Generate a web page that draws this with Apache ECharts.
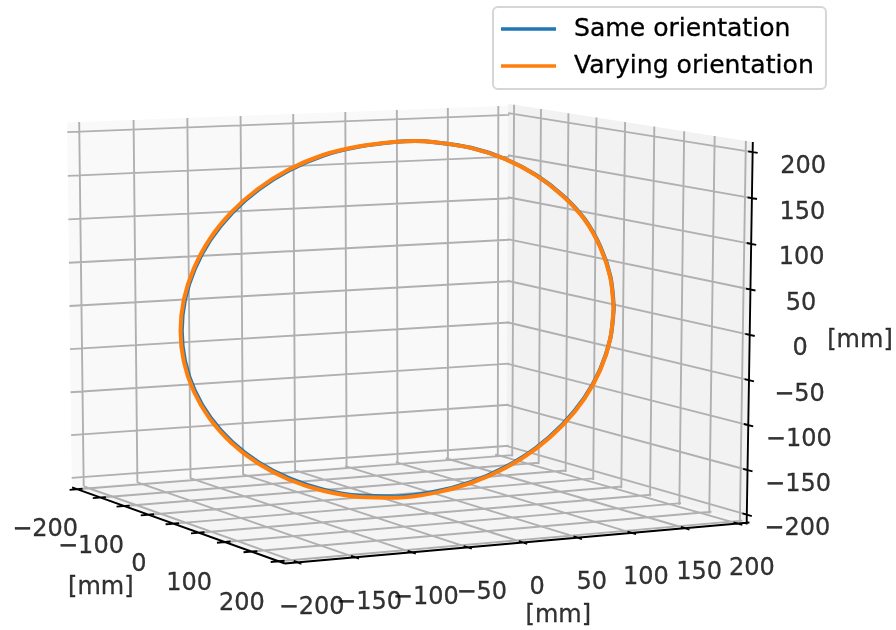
<!DOCTYPE html>
<html>
<head>
<meta charset="utf-8">
<style>html,body{margin:0;padding:0;background:#fff}#c{width:896px;height:630px}</style>
<script src="https://cdn.jsdelivr.net/npm/echarts@6/dist/echarts.min.js"></script>
</head>
<body>
<div id="c"></div>
<script>
// ---- values ----
const depthTicks = [-200,-150,-100,-50,0,50,100,150,200];
const widthTicks = [-200,-150,-100,-50,0,50,100,150,200];
const heightTicks = [-200,-150,-100,-50,0,50,100,150,200];
const depthLabels = [-200,-100,0,100,200];
const widthLabels = [-200,-150,-100,-50,0,50,100,150,200];
const heightLabels = [-200,-150,-100,-50,0,50,100,150,200];
const axisLimit = 211;
const seriesNames = ['Same orientation','Varying orientation'];
// trajectory as seen in the view plane, units measured from the centre of the view
const sameOrientation = [[216.8,10],[213.5,41],[203.7,70.6],[187.8,98.7],[166.1,122.3],[139.4,142.8],[108.4,159],[74.1,170.2],[37.6,175.8],[18,177],[0,176.2],[-37.4,171.4],[-73.5,162.5],[-107.7,147.7],[-138.5,128.3],[-165,105],[-186.6,78.2],[-202.3,48.9],[-212,18.4],[-215.2,-12.7],[-211.9,-43.3],[-202.2,-72.5],[-186.4,-99.7],[-164.8,-124],[-138.3,-144.4],[-107.5,-160.4],[-73.4,-171.6],[-37.2,-177.6],[0,-178.4],[37.3,-173.8],[73.6,-164.1],[107.8,-149.2],[138.7,-130],[165.3,-106.6],[187.1,-80.1],[203.2,-51.2],[213.2,-21],[216.8,10]];
const varyingOrientation = [[216.5,10],[213.2,40.9],[203.4,70.4],[187.5,98.5],[165.8,122],[139.2,142.6],[108.3,158.8],[74,170.1],[37.6,175.8],[18,177],[0,176.2],[-37.6,171.7],[-74,163],[-108.3,148.4],[-139.2,129],[-165.8,105.6],[-187.5,78.7],[-203.4,48.9],[-213.2,18.4],[-216.5,-12.7],[-213.2,-43.6],[-203.4,-73],[-187.5,-100.4],[-165.8,-124.7],[-139.2,-145.3],[-108.3,-161.5],[-74,-172.8],[-37.6,-178.9],[0,-179.7],[37.6,-174.9],[74,-165],[108.3,-150],[139.2,-130.6],[165.8,-107.2],[187.5,-80.6],[203.4,-51.6],[213.2,-21],[216.5,10]];

// ---- view geometry (where the ±200 grid corners of each wall appear) ----
const viewLeft = 397, viewTop = 318;
function homography(c00,c10,c11,c01){
  const [x0,y0]=c00,[x1,y1]=c10,[x2,y2]=c11,[x3,y3]=c01;
  const dx1=x1-x2,dx2=x3-x2,sx=x0-x1+x2-x3,dy1=y1-y2,dy2=y3-y2,sy=y0-y1+y2-y3;
  const den=dx1*dy2-dy1*dx2;
  const g=(sx*dy2-dx2*sy)/den,h=(dx1*sy-sx*dy1)/den;
  const a=x1-x0+g*x1,b=x3-x0+h*x3,d=y1-y0+g*y1,e=y3-y0+h*y3;
  return function(u,v){
    const s=(u+200)/400,t=(v+200)/400,w=g*s+h*t+1;
    return [(a*s+b*t+x0)/w-viewLeft, viewTop-(d*s+e*t+y0)/w];
  };
}
// (width, height) on the left wall
const leftWall = homography([83.6,477],[497.8,446.5],[498.3,115.3],[79.3,131.7]);
// (depth, height) on the right wall
const rightWall = homography([512.3,447.5],[740,512.7],[745.7,151],[514,114]);
// (depth, width) on the floor
const floor = homography([89,488.3],[291.5,560.2],[731,521.6],[501,456]);

const L = axisLimit;
const gap = ['-','-'];
function segs(list){ const out=[]; list.forEach(s=>{out.push(s[0],s[1],gap);}); return out; }

const panes = [
  {c:'#f9f9f9',p:[leftWall(-L,-L),leftWall(L,-L),leftWall(L,L),leftWall(-L,L)]},
  {c:'#f2f2f2',p:[rightWall(-L,-L),rightWall(L,-L),rightWall(L,L),rightWall(-L,L)]},
  {c:'#f5f5f5',p:[floor(-L,-L),floor(L,-L),floor(L,L),floor(-L,L)]}
];

const gridSegs = [];
widthTicks.forEach(w=>{ gridSegs.push([leftWall(w,-L),leftWall(w,L)]); gridSegs.push([floor(-L,w),floor(L,w)]); });
depthTicks.forEach(a=>{ gridSegs.push([rightWall(a,-L),rightWall(a,L)]); gridSegs.push([floor(a,-L),floor(a,L)]); });
heightTicks.forEach(z=>{ gridSegs.push([leftWall(-L,z),leftWall(L,z)]); gridSegs.push([rightWall(-L,z),rightWall(L,z)]); });

const axisSegs = [
  [floor(-L,-L),floor(L,-L)],
  [floor(L,-L),floor(L,L)],
  [rightWall(L,-L),rightWall(L,L)]
];
depthTicks.forEach(a=>axisSegs.push([floor(a,-L-7),floor(a,-L+5)]));
widthTicks.forEach(w=>axisSegs.push([floor(L-7,w),floor(L+7,w)]));
heightTicks.forEach(z=>axisSegs.push([rightWall(L-7,z),rightWall(L+8,z)]));

const fmt = v => (v<0?'\u2212'+(-v):''+v);
const shift = (p,dx,dy)=>[p[0]+dx,p[1]-dy];
const tickText = [];
depthLabels.forEach(a=>tickText.push({name:fmt(a),value:shift(floor(a,-L),-34.5-a/80,41.5+a/200)}));
widthLabels.forEach(w=>tickText.push({name:fmt(w),value:shift(floor(L,w),14,45)}));
heightLabels.forEach(z=>tickText.push({name:fmt(z),value:shift(rightWall(L,z),50.5,14.3)}));
tickText.push({name:'[mm]',value:[100.8-viewLeft,viewTop-588]});
tickText.push({name:'[mm]',value:[558.3-viewLeft,viewTop-616]});
tickText.push({name:'[mm]',value:[860-viewLeft,viewTop-341]});

const FONT = '"DejaVu Sans"';
const chart = echarts.init(document.getElementById('c'),null,{renderer:'canvas',width:896,height:630});
chart.setOption({
  animation:false,
  backgroundColor:'#fff',
  grid:{left:0,right:0,top:0,bottom:0},
  xAxis:{type:'value',min:-viewLeft,max:896-viewLeft,show:false},
  yAxis:{type:'value',min:viewTop-630,max:viewTop,show:false},
  legend:{
    data:seriesNames,left:493,top:7,orient:'vertical',align:'left',icon:'rect',
    padding:[8,12,9,8],itemWidth:55,itemHeight:3.6,itemGap:9,
    backgroundColor:'#fff',borderColor:'#d6d6d6',borderWidth:2,borderRadius:5,
    selectedMode:false,
    textStyle:{fontFamily:FONT,fontSize:25.1,color:'#000',lineHeight:28,padding:[0,0,0,13],textBorderColor:'#000',textBorderWidth:0.3}
  },
  series:[
    {type:'custom',name:'panes',silent:true,z:1,data:panes.map((_,i)=>[i]),encode:{x:0,y:0},clip:false,
      renderItem:(params,api)=>({type:'polygon',shape:{points:panes[params.dataIndex].p.map(q=>api.coord(q))},style:{fill:panes[params.dataIndex].c}})},
    {type:'line',name:'grid',silent:true,z:2,symbol:'none',clip:false,data:segs(gridSegs),lineStyle:{color:'#b0b0b0',width:1.9}},
    {type:'line',name:'axes',silent:true,z:3,symbol:'none',clip:false,data:segs(axisSegs),lineStyle:{color:'#000',width:1.9}},
    {type:'line',name:seriesNames[0],silent:true,z:4,symbol:'none',smooth:0.33,clip:false,data:sameOrientation,itemStyle:{color:'#1f77b4'},lineStyle:{color:'#1f77b4',width:4}},
    {type:'line',name:seriesNames[1],silent:true,z:5,symbol:'none',smooth:0.33,clip:false,data:varyingOrientation,itemStyle:{color:'#ff7f0e'},lineStyle:{color:'#ff7f0e',width:4}},
    {type:'scatter',name:'labels',silent:true,z:6,symbolSize:1,itemStyle:{color:'rgba(0,0,0,0)'},clip:false,data:tickText,
      label:{show:true,position:'inside',formatter:p=>p.name,fontFamily:FONT,fontSize:24,color:'#000',align:'center',verticalAlign:'middle',textBorderColor:'#000',textBorderWidth:0.3}}
  ]
});
</script>
</body>
</html>
